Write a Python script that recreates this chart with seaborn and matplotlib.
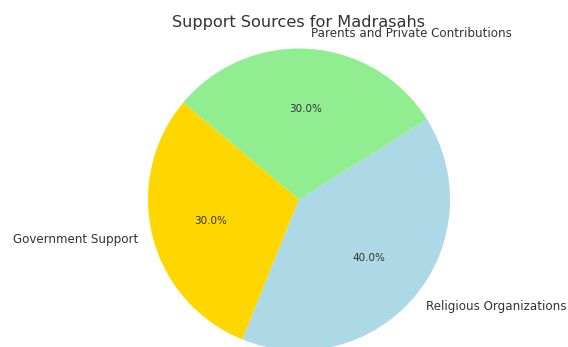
import matplotlib
matplotlib.use("Agg")
import matplotlib.pyplot as plt
import seaborn as sns

labels = ["Government Support", "Religious Organizations", "Parents and Private Contributions"]
values = [30, 40, 30]
colors = ["gold", "lightblue", "lightgreen"]

sns.set_theme(style="white")
plt.rcParams["font.family"] = ["DejaVu Sans"]

R = 151.0
span = 2.5 * R
cx, cy = 299.0, 199.5
fig = plt.figure(figsize=(5.68, 3.47), dpi=100)
ax = fig.add_axes([(cx - span / 2) / 568, (347 - cy - span / 2) / 347, span / 568, span / 347])
wedges, texts, autotexts = ax.pie(values, labels=labels, colors=colors, autopct="%1.1f%%",
                                  startangle=140, wedgeprops={"edgecolor": "none", "linewidth": 0},
                                  textprops={"color": "#333333", "fontsize": 8.6})
for t in autotexts:
    t.set_fontsize(7.5)
ax.set_aspect("equal")
fig.text(299/568, 1 - 22/347, "Support Sources for Madrasahs", ha="center", va="center",
         fontsize=11.6, color="#333333")
fig.savefig("out.png", dpi=100)
